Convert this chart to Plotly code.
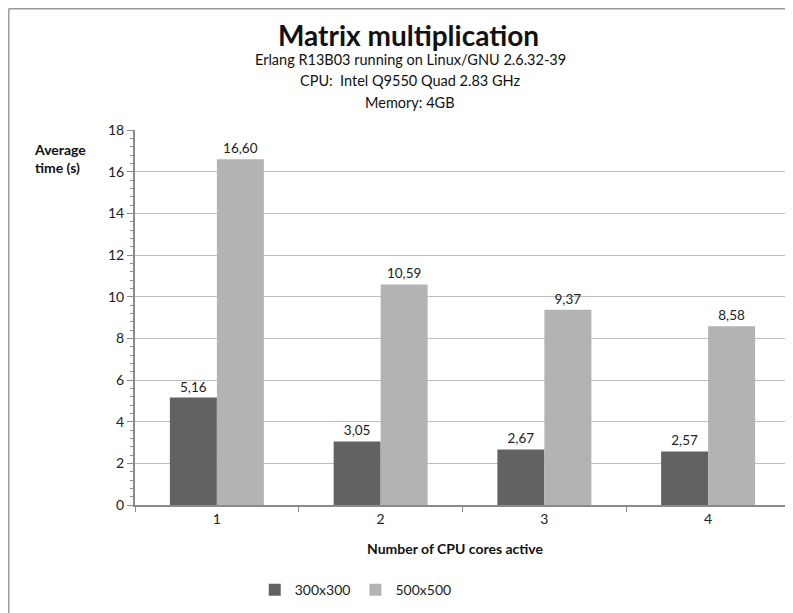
import plotly.graph_objects as go

categories = ["1", "2", "3", "4"]
series_names = ["300x300", "500x500"]
values_300 = [5.16, 3.05, 2.67, 2.57]
values_500 = [16.60, 10.59, 9.37, 8.58]
colors = ["#626262", "#b3b3b3"]

FONT = "Lato, 'Open Sans', sans-serif"

fig = go.Figure()
for name, vals, col in zip(series_names, [values_300, values_500], colors):
    fig.add_trace(go.Bar(
        x=categories, y=vals, name=name, marker=dict(color=col, line=dict(width=0)),
        texttemplate="%{y:.2f}", textposition="outside", cliponaxis=False,
        textfont=dict(size=13.5, color="#222", family=FONT),
    ))

# figure is 785x605 because the page body adds an 8px margin
fig.update_layout(
    width=785, height=605,
    separators=", ",
    barmode="group", bargap=0.426, bargroupgap=0,
    plot_bgcolor="white", paper_bgcolor="white",
    margin=dict(l=127, r=3, t=122, b=108),
    font=dict(family=FONT, color="#222", size=14),
    showlegend=True,
    legend=dict(orientation="h", x=0.337, xanchor="center", y=-0.227, yanchor="middle",
                font=dict(size=14, family=FONT), itemwidth=30,
                traceorder="normal"),
    xaxis=dict(type="category", showline=True, linecolor="#8a8a8a", linewidth=2,
               ticks="outside", tickson="boundaries", ticklen=5, tickcolor="#8a8a8a",
               tickfont=dict(size=14, family=FONT), showgrid=False),
    yaxis=dict(range=[0, 18], dtick=2, showline=True, linecolor="#8a8a8a", linewidth=2,
               ticks="outside", ticklen=6, tickcolor="#8a8a8a",
               tickfont=dict(size=14, family=FONT),
               showgrid=True, gridcolor="#bdbdbd", gridwidth=1, zeroline=False,
               minor=dict(dtick=0.4, ticks="outside", ticklen=3, tickcolor="#8a8a8a", showgrid=False)),
)

# frame: left and top edges of the chart
PW, PH = 655, 375
fig.add_shape(type="line", xref="paper", yref="paper",
              x0=(0.75 - 127) / PW, x1=(0.75 - 127) / PW, y0=-108 / PH, y1=(497 - 0.75) / PH,
              line=dict(color="#9a9a9a", width=1.5))
fig.add_shape(type="line", xref="paper", yref="paper",
              x0=(0.75 - 127) / PW, x1=(785 - 127) / PW, y0=(497 - 0.75) / PH, y1=(497 - 0.75) / PH,
              line=dict(color="#9a9a9a", width=1.5))

# positions below in reference-image pixels
annots = [
    ("<b>Matrix multiplication</b>", 408, 35, 28),
    ("Erlang R13B03 running on Linux/GNU 2.6.32-39", 410, 60, 14.5),
    ("CPU:  Intel Q9550 Quad 2.83 GHz", 410, 81, 14.5),
    ("Memory: 4GB", 410, 102, 14.5),
    ("<b>Number of CPU cores active</b>", 455, 548, 14),
]
for txt, px, py, sz in annots:
    fig.add_annotation(text=txt, xref="paper", yref="paper",
                       x=(px - 135) / PW, y=(505 - py) / PH,
                       xanchor="center", yanchor="middle", showarrow=False,
                       font=dict(size=sz, family=FONT, color="#111"))
fig.add_annotation(text="<b>Average<br>time (s)</b>", xref="paper", yref="paper",
                   x=(60 - 135) / PW, y=(505 - 158) / PH, xanchor="center", yanchor="middle",
                   showarrow=False, align="left", font=dict(size=14, family=FONT, color="#111"))

fig.write_html("out.html")
